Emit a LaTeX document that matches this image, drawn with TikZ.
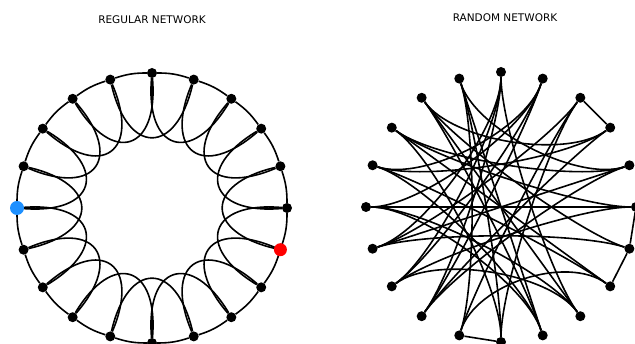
\documentclass[tikz,border=0pt]{standalone}
\usepackage{fontspec}
\setmainfont{DejaVu Sans}
\usetikzlibrary{calc}
\pgfdeclarelayer{edges}
\pgfsetlayers{edges,main}
\definecolor{dotblue}{RGB}{30,144,255}
\definecolor{dotred}{RGB}{255,0,0}

\begin{document}
\begin{tikzpicture}[x = 1pt, y = 1pt,
  link/.style = {draw = black, line width = 1.6pt},
  dot/.style = {circle, fill = black, inner sep = 0pt, minimum size = 10pt},
  bigdot/.style = {circle, inner sep = 0pt, minimum size = 14pt},
  title/.style = {font = \fontsize{10.5}{12}\selectfont}]
\useasboundingbox (0,0) rectangle (635,344);
%regular network
\coordinate (RC) at (152,136);
\node[title] (RT) at (152,324) {REGULAR NETWORK};
\foreach \k in {0,...,19}
  \node[dot] (R\k) at ($(RC)+(18*\k:135)$) {};
\node[bigdot, fill = dotblue] (Rblue) at (R10) {};
\node[bigdot, fill = dotred, minimum size = 13pt] (Rred) at (R19) {};
\begin{pgfonlayer}{edges}
  \foreach \k [evaluate = \k as \n using {int(mod(\k+1,20))},
               evaluate = \k as \m using {int(mod(\k+2,20))},
               evaluate = \k as \o using {18*\k+185},
               evaluate = \k as \i using {18*\k+211}] in {0,...,19} {
    %ring neighbour
    \draw[link] (R\k) to[bend right = 9] (R\n);
    %second neighbour, a loop hanging inwards
    \draw[link] (R\k) to[out = \o, in = \i, looseness = 2.3] (R\m);
  }
\end{pgfonlayer}

%random network
\coordinate (NC) at (501,137);
\node[title] (NT) at (505,326) {RANDOM NETWORK};
\foreach \k in {0,...,19}
  \node[dot] (N\k) at ($(NC)+(18*\k:135)$) {};
\begin{pgfonlayer}{edges}
  %links kept from the ring
  \foreach \a/\b in {2/3, 0/19, 18/19, 14/15}
    \draw[link] (N\a) -- (N\b);
  %rewired links
  \foreach \a/\b in {5/12, 5/17, 6/16, 6/1, 4/12, 4/13, 4/10, 4/9, 3/11, 3/14,
                     2/7, 2/9, 1/8, 1/13, 0/8, 0/10, 19/7, 19/11, 18/8, 18/9,
                     17/7, 17/10, 16/9, 16/7, 15/6, 0/12, 1/11, 2/13, 3/15,
                     5/13, 5/11, 6/14, 8/15, 10/16, 12/17, 14/18}
    \draw[link] (N\a) .. controls ($(N\a)!0.4!(NC)$) and ($(N\b)!0.4!(NC)$) .. (N\b);
\end{pgfonlayer}
\end{tikzpicture}
\end{document}
